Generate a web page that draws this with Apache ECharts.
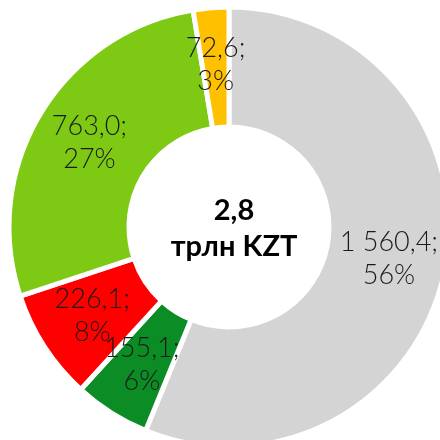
<!DOCTYPE html>
<html>
<head>
<meta charset="utf-8">
<script src="https://cdn.jsdelivr.net/npm/echarts@6/dist/echarts.min.js"></script>
<style>
  html, body { margin: 0; padding: 0; background: #fff; }
  #chart { width: 440px; height: 440px; }
</style>
</head>
<body>
<div id="chart"></div>
<script>
var categories = ['Прочее', 'Сегмент 2', 'Сегмент 3', 'Сегмент 4', 'Сегмент 5'];
var values = [1560.4, 155.1, 226.1, 763.0, 72.6];
var colors = ['#d4d4d4', '#0b8c25', '#ff0000', '#7ec914', '#ffc000'];
var centerLines = ['2,8', 'трлн KZT'];

function fmt(v) {
  var parts = v.toFixed(1).split('.');
  var intPart = parts[0].replace(/\B(?=(\d{3})+(?!\d))/g, ' ');
  return intPart + ',' + parts[1];
}

var chart = echarts.init(document.getElementById('chart'), null, { renderer: 'canvas' });

chart.setOption({
  animation: false,
  title: {
    text: centerLines.join('\n'),
    left: 229,
    top: 188,
    textAlign: 'center',
    textStyle: {
      fontFamily: 'Lato, "Noto Sans", sans-serif',
      fontWeight: 'bold',
      fontSize: 29,
      lineHeight: 36,
      color: '#000'
    }
  },
  series: [{
    type: 'pie',
    center: [229, 227],
    radius: [100, 220],
    startAngle: 90,
    clockwise: true,
    avoidLabelOverlap: false,
    labelLayout: { hideOverlap: false },
    data: categories.map(function(c, i) {
      return { name: c, value: values[i], itemStyle: { color: colors[i] } };
    }),
    itemStyle: { borderColor: '#fff', borderWidth: 5 },
    label: {
      show: true,
      position: 'inside',
      formatter: function(p) {
        return fmt(p.value) + ';\n' + Math.round(p.percent) + '%';
      },
      fontFamily: 'Lato, "Noto Sans", sans-serif',
      fontWeight: 300,
      fontSize: 27,
      lineHeight: 33,
      color: '#1a1a1a'
    },
    labelLine: { show: false },
    emphasis: { disabled: true }
  }]
});
</script>
</body>
</html>
